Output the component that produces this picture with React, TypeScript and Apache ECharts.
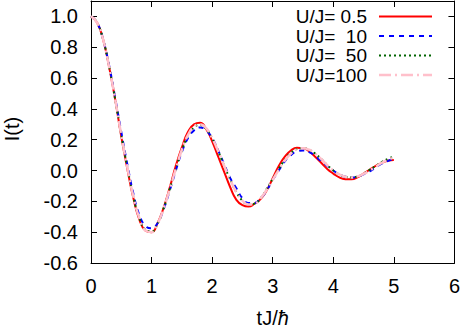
import React, { useEffect, useRef } from "react";
import * as echarts from "echarts";

const tValues = [
  0, 0.1, 0.2, 0.3, 0.4, 0.5, 0.6, 0.7, 0.8, 0.9,
  1.0, 1.1, 1.2, 1.3, 1.4, 1.5, 1.6, 1.7, 1.8, 1.9,
  2.0, 2.1, 2.2, 2.3, 2.4, 2.5, 2.6, 2.7, 2.8, 2.9,
  3.0, 3.1, 3.2, 3.3, 3.4, 3.5, 3.6, 3.7, 3.8, 3.9,
  4.0, 4.1, 4.2, 4.3, 4.4, 4.5, 4.6, 4.7, 4.8, 4.9, 5.0,
];

const seriesNames = ["U/J= 0.5", "U/J=  10", "U/J=  50", "U/J=100"];

const u05 = [
  1.0, 0.96, 0.85, 0.67, 0.46, 0.22, 0.01, -0.18, -0.32, -0.39,
  -0.4, -0.34, -0.24, -0.11, 0.03, 0.15, 0.25, 0.3, 0.31, 0.27,
  0.19, 0.09, -0.01, -0.11, -0.19, -0.225, -0.234, -0.215, -0.185, -0.13,
  -0.05, 0.03, 0.09, 0.13, 0.147, 0.145, 0.125, 0.09, 0.05, 0.01,
  -0.02, -0.045, -0.056, -0.057, -0.045, -0.02, 0.005, 0.03, 0.05, 0.063, 0.069,
];

const u10 = [
  1.0, 0.96, 0.85, 0.68, 0.47, 0.25, 0.04, -0.15, -0.29, -0.36,
  -0.375, -0.34, -0.25, -0.13, 0.0, 0.12, 0.21, 0.26, 0.28, 0.26,
  0.21, 0.13, 0.04, -0.05, -0.115, -0.18, -0.21, -0.21, -0.18, -0.13,
  -0.06, 0.0, 0.06, 0.1, 0.125, 0.13, 0.12, 0.095, 0.06, 0.03,
  0.0, -0.025, -0.04, -0.045, -0.04, -0.025, -0.005, 0.02, 0.045, 0.062, 0.073,
];

const u50 = [
  1.0, 0.96, 0.85, 0.67, 0.46, 0.23, 0.02, -0.17, -0.31, -0.385,
  -0.395, -0.345, -0.245, -0.12, 0.01, 0.13, 0.225, 0.28, 0.295, 0.27,
  0.21, 0.125, 0.03, -0.06, -0.14, -0.195, -0.22, -0.215, -0.18, -0.12,
  -0.055, 0.01, 0.07, 0.115, 0.14, 0.145, 0.135, 0.11, 0.075, 0.035,
  0.0, -0.025, -0.04, -0.045, -0.038, -0.02, 0.005, 0.03, 0.055, 0.075, 0.09,
];

const u100 = [
  1.0, 0.96, 0.85, 0.67, 0.46, 0.23, 0.02, -0.17, -0.31, -0.39,
  -0.4, -0.345, -0.245, -0.12, 0.01, 0.135, 0.23, 0.285, 0.3, 0.275,
  0.21, 0.125, 0.03, -0.06, -0.14, -0.195, -0.22, -0.215, -0.18, -0.125,
  -0.06, 0.005, 0.065, 0.11, 0.138, 0.145, 0.135, 0.11, 0.075, 0.035,
  0.0, -0.025, -0.04, -0.045, -0.038, -0.022, 0.0, 0.025, 0.05, 0.07, 0.085,
];

const xTicks = { min: 0, max: 6, interval: 1 };
const yTicks = { min: -0.6, max: 1.1, interval: 0.2 };

const FONT = "'Liberation Sans', Arial, Helvetica, sans-serif";

function zip(vals: number[]) {
  return tValues.map((t, i) => [t, vals[i]]);
}

export default function App() {
  const ref = useRef<HTMLDivElement>(null);

  useEffect(() => {
    if (!ref.current) return;
    const chart = echarts.init(ref.current, undefined, { renderer: "svg" });

    const axisLine = { show: true, onZero: false, lineStyle: { color: "#000", width: 1 } };
    const axisTick = { show: true, inside: true, length: 6, lineStyle: { color: "#000", width: 1 } };

    const styles = [
      { color: "#ff0000", width: 2, type: "solid" as any },
      { color: "#0000ff", width: 2, type: [5, 5] as any },
      { color: "#006400", width: 2, type: [2, 3] as any },
      { color: "#ffc0cb", width: 2.5, type: [12, 4, 2, 4] as any },
    ];
    const dataSets = [u05, u10, u50, u100];

    const legendRowsY = [16.5, 36, 55.5, 75];
    const graphic: any[] = [];
    seriesNames.forEach((name, i) => {
      graphic.push({
        type: "text",
        x: 367,
        y: legendRowsY[i],
        style: {
          text: name.replace(/ /g, "\u00a0"),
          fill: "#000",
          fontSize: 19,
          lineHeight: 18,
          fontFamily: FONT,
          align: "right",
          verticalAlign: "middle",
        },
      });
      graphic.push({
        type: "line",
        shape: { x1: 379, y1: legendRowsY[i], x2: 432, y2: legendRowsY[i] },
        style: {
          stroke: styles[i].color,
          lineWidth: styles[i].width,
          lineDash: styles[i].type === "solid" ? null : styles[i].type,
        },
      });
    });
    graphic.push({
      type: "text",
      x: 12,
      y: 129,
      rotation: Math.PI / 2,
      style: {
        text: "I(t)",
        fill: "#000",
        fontSize: 20,
        fontFamily: FONT,
        align: "center",
        verticalAlign: "middle",
      },
    });

    chart.setOption({
      animation: false,
      backgroundColor: "#fff",
      grid: { left: 91, right: 7, top: 1, bottom: 64, containLabel: false },
      xAxis: [
        {
          type: "value",
          position: "bottom",
          ...xTicks,
          axisLine,
          axisTick,
          splitLine: { show: false },
          axisLabel: { color: "#000", fontSize: 20, fontFamily: FONT, margin: 13 },
          name: "tJ/{i|ħ}",
          nameLocation: "middle",
          nameGap: 45,
          nameTextStyle: {
            color: "#000",
            fontSize: 20,
            fontFamily: FONT,
            rich: { i: { fontStyle: "italic", fontSize: 20, fontFamily: FONT, color: "#000" } },
          },
        },
        {
          type: "value",
          position: "top",
          ...xTicks,
          axisLine,
          axisTick,
          splitLine: { show: false },
          axisLabel: { show: false },
        },
      ],
      yAxis: [
        {
          type: "value",
          position: "left",
          ...yTicks,
          axisLine,
          axisTick,
          splitLine: { show: false },
          axisLabel: {
            color: "#000",
            fontSize: 20,
            fontFamily: FONT,
            margin: 13,
            formatter: (v: number) => (v > 1.05 ? "" : v.toFixed(1)),
          },
        },
        {
          type: "value",
          position: "right",
          ...yTicks,
          axisLine,
          axisTick,
          splitLine: { show: false },
          axisLabel: { show: false },
        },
      ],
      graphic,
      series: dataSets.map((d, i) => ({
        type: "line",
        name: seriesNames[i],
        data: zip(d),
        smooth: true,
        showSymbol: false,
        symbol: "none",
        xAxisIndex: 0,
        yAxisIndex: 0,
        lineStyle: { color: styles[i].color, width: styles[i].width, type: styles[i].type },
        z: 2 + i,
      })),
    });

    return () => chart.dispose();
  }, []);

  return (
    <div
      ref={ref}
      style={{ position: "absolute", left: 0, top: 0, width: 463, height: 333 }}
    />
  );
}
